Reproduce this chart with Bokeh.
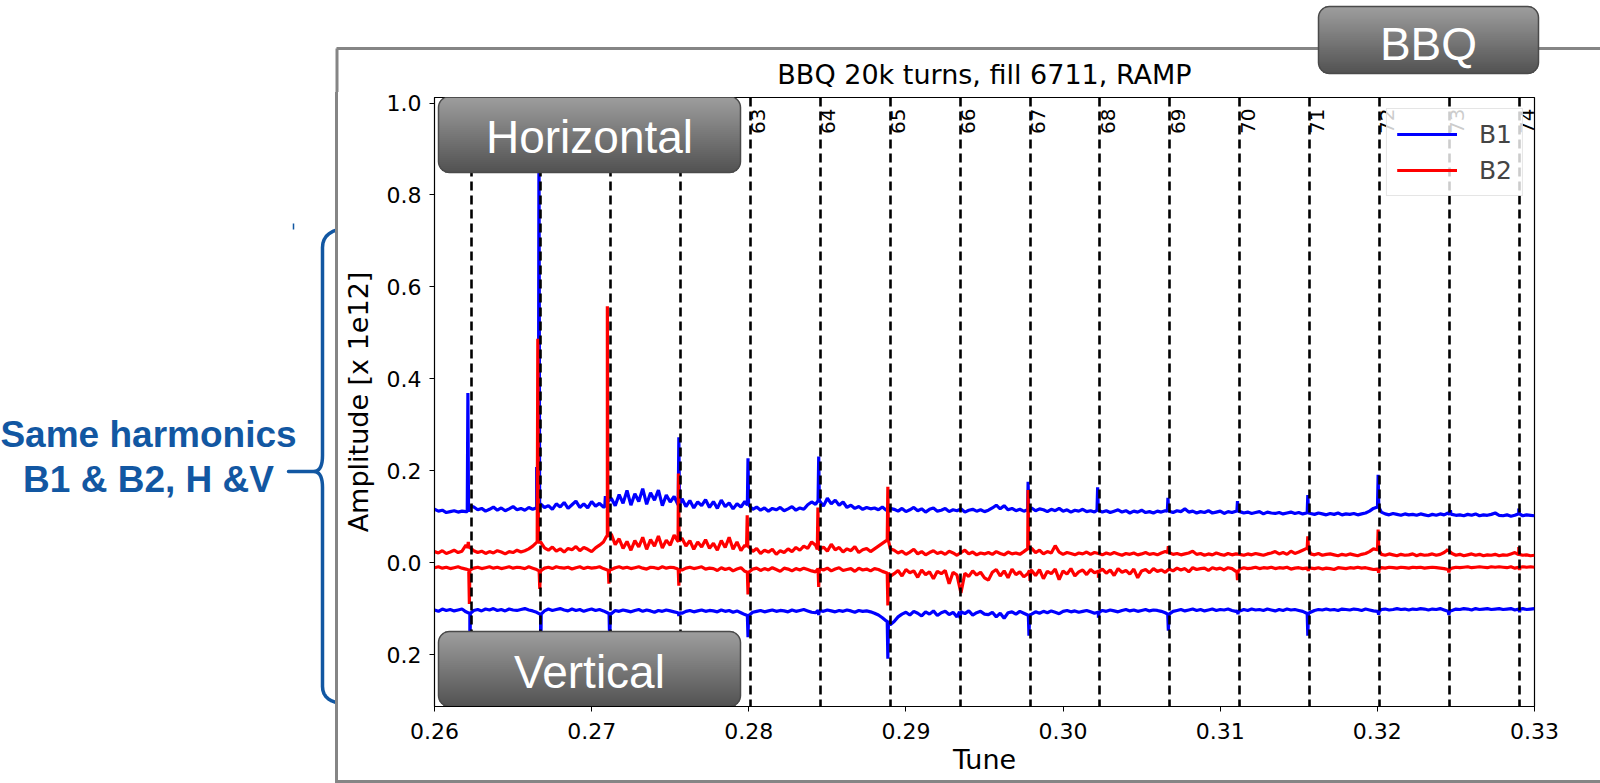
import numpy as np
from bokeh.plotting import figure
from bokeh.layouts import column, row
from bokeh.models import Legend, LegendItem, FixedTicker, Range1d
from bokeh.core.properties import value
from bokeh.embed import file_html
from bokeh.resources import INLINE

# ---------------------------------------------------------------------------
# BBQ spectra, fill 6711 (RAMP), 20k turns.
# Amplitudes are sampled every 0.00025 in tune starting at 0.26 and are given
# in units of 1e9 (i.e. thousandths of the 1e12 axis unit).
# Vertical-plane spectra are plotted mirrored (negative) below zero.
# ---------------------------------------------------------------------------
TUNE_START = 0.26
TUNE_STEP = 0.00025

b1_h = [116, 112, 114, 109, 111, 113, 110, 112, 111,
        124, 121,
        115, 118, 112, 116, 121, 114, 119, 113, 117, 122, 115, 118, 114, 120, 116, 119,
        128, 120, 124, 116, 128, 121, 131, 118, 126, 134, 120, 128, 119, 133, 123, 129, 121, 132,
        140, 124, 148, 129, 157, 125, 150, 133, 161, 127, 152, 136, 158, 124, 147, 132, 144, 126,
        139, 122, 135, 119, 132, 124, 137, 120,
        133, 118, 136, 122, 130, 117, 128, 121, 133,
        125, 116, 121, 114, 119, 112, 118, 115, 120, 113, 117, 122, 114, 119, 116, 126, 132,
        127, 135, 123, 140, 128, 136, 125, 132, 120, 125, 118, 122, 116, 120, 117, 119, 115, 121, 114, 118,
        116, 112, 118, 111, 115, 120, 113, 117, 110, 116, 119, 112, 114, 118, 111, 115, 113, 117, 110, 114, 116, 112, 115, 111,
        114, 119, 125, 117, 124, 115, 118, 113, 116, 112, 115,
        119, 113, 117, 115, 111, 116, 113, 118, 112, 115, 110, 114, 112, 116, 111, 113, 110,
        114, 110, 113, 109, 112, 115, 110, 113, 108, 112, 110, 114, 109, 111, 108, 112, 110, 113,
        112, 109, 113, 111, 117, 110, 112, 108, 111, 109, 113, 108, 110, 112, 107, 111, 109, 112,
        111, 108, 110, 107, 109, 111, 106, 110, 108, 107, 109, 106, 108, 110, 107, 109, 106, 108,
        107, 105, 108, 106, 104, 107, 105, 108, 104, 106, 105, 107, 104, 106, 108, 112, 118,
        121, 110, 106, 104, 107, 105, 103, 106, 104, 105, 103, 106, 104, 102, 105, 103, 106, 104, 108,
        105, 103, 104, 102, 105, 103, 106, 102, 104, 103, 105, 108, 103, 102, 104, 101, 103, 106, 102, 104, 103, 102]

b2_h = [24, 21, 26, 20, 23, 27, 22, 25, 38,
        33, 26, 22, 25, 20, 24, 21, 26, 23, 19, 24, 22, 27, 23, 26, 30, 36, 44,
        45, 32, 27, 34, 25, 30, 23, 31, 28, 35, 26, 33, 29, 24, 32, 38, 45, 58,
        62, 39, 52, 31, 46, 27, 48, 34, 55, 29, 50, 36, 58, 32, 49, 38, 60, 47,
        53, 36, 48, 29, 45, 34, 50, 31,
        42, 27, 48, 33, 55, 29, 45, 26, 38,
        35, 24, 31, 20, 27, 23, 29, 18, 26, 22, 30, 24, 33, 27, 36, 31, 45,
        38, 29, 34, 25, 40, 28, 33, 23, 30, 26, 35, 22, 28, 31, 24, 30, 36, 42, 48, 30,
        27, 21, 25, 18, 23, 29, 19, 24, 17, 22, 26, 20, 23, 18, 25, 21, 16, 22, 27, 19, 23, 17, 21, 19,
        22, 18, 24, 20, 17, 23, 19, 21, 18, 24, 30,
        31, 22, 27, 19, 24, 21, 37, 23, 18, 22, 20, 17, 21, 19, 23, 18, 22,
        20, 17, 21, 18, 22, 19, 16, 20, 18, 21, 17, 19, 22, 18, 20, 17, 21, 24,
        22, 18, 20, 17, 19, 21, 25, 18, 20, 16, 19, 17, 21, 18, 16, 20, 17, 19,
        18, 16, 19, 17, 20, 18, 16, 19, 21, 24, 19, 22, 18, 25, 20, 23, 27, 31,
        19, 17, 20, 16, 18, 19, 17, 15, 18, 16, 19, 17, 15, 18, 20, 24, 30,
        28, 18, 16, 19, 17, 15, 18, 16, 17, 19, 15, 18, 16, 17, 19, 16, 18, 22, 27,
        20, 16, 18, 15, 17, 19, 16, 18, 15, 17, 16, 18, 15, 17, 16, 19, 22, 18, 16, 17, 15, 16]

b2_v = [-11, -9, -12, -10, -13, -11, -9, -12, -14,
        -16, -12, -10, -13, -11, -9, -12, -10, -13, -11, -9, -12, -10, -11, -13, -9, -12, -15,
        -18, -12, -10, -13, -9, -11, -12, -10, -14, -11, -9, -13, -10, -12, -11, -9, -13, -16,
        -15, -11, -9, -12, -10, -13, -11, -9, -12, -14, -10, -11, -13, -9, -12, -10, -11, -14,
        -16, -12, -10, -13, -11, -9, -14, -12,
        -13, -17, -11, -15, -12, -18, -14, -11, -19,
        -21, -14, -12, -17, -13, -16, -11, -15, -19, -12, -14, -18, -13, -16, -12, -15, -18,
        -20, -13, -16, -12, -18, -14, -11, -17, -15, -13, -19, -12, -16, -14, -18, -13, -15, -19, -22, -30,
        -24, -17, -29, -15, -22, -18, -32, -16, -26, -20, -35, -19, -24, -17, -46, -21, -27, -66, -23, -30, -18, -27, -21, -33,
        -38, -21, -15, -29, -18, -33, -14, -26, -20, -31, -24,
        -17, -28, -15, -35, -19, -24, -14, -37, -18, -25, -13, -29, -20, -16, -26, -15, -22,
        -19, -14, -23, -16, -28, -13, -21, -17, -25, -14, -33, -18, -15, -22, -13, -19, -16, -21,
        -14, -18, -12, -16, -13, -20, -11, -15, -13, -12, -17, -11, -14, -12, -16, -11, -13, -19,
        -14, -11, -13, -12, -10, -13, -11, -12, -10, -13, -11, -12, -10, -14, -12, -11, -13, -12,
        -12, -13, -11, -14, -12, -13, -15, -11, -12, -13, -11, -12, -10, -12, -11, -13, -15,
        -14, -11, -12, -10, -11, -12, -10, -11, -12, -10, -11, -10, -12, -11, -10, -11, -12, -13, -15,
        -12, -10, -11, -10, -9, -11, -10, -9, -10, -11, -9, -10, -9, -10, -11, -9, -12, -10, -9, -10, -9, -10]

b1_v = [-103, -106, -101, -104, -102, -105, -103, -101, -107,
        -110, -104, -102, -105, -101, -103, -100, -104, -102, -105, -101, -103, -104, -102, -100, -103, -105, -108,
        -112, -105, -101, -104, -102, -100, -103, -105, -101, -104, -102, -106, -103, -101, -104, -102, -105, -109,
        -111, -104, -106, -103, -105, -107, -104, -102, -106, -103, -105, -108, -104, -106, -103, -105, -107, -109,
        -110, -106, -104, -107, -105, -103, -106, -104,
        -105, -107, -103, -106, -104, -108, -105, -109, -113,
        -115, -108, -106, -104, -107, -105, -103, -106, -104, -105, -107, -103, -106, -104, -102, -105, -108,
        -109, -104, -106, -103, -105, -107, -104, -106, -103, -105, -108, -104, -106, -105, -107, -110, -114, -120, -127, -135,
        -128, -118, -112, -108, -114, -106, -110, -116, -107, -112, -105, -115, -109, -106, -113, -108, -118, -107, -111, -105, -114, -109, -106, -112,
        -113, -108, -118, -110, -121, -109, -107, -112, -106, -110, -114,
        -112, -107, -110, -106, -109, -105, -108, -111, -106, -104, -107, -105, -108, -106, -104, -107, -110,
        -108, -104, -106, -103, -105, -107, -104, -102, -105, -103, -106, -104, -102, -105, -103, -104, -106, -109,
        -112, -106, -104, -102, -105, -103, -101, -104, -102, -105, -103, -101, -104, -102, -103, -101, -104, -106,
        -105, -102, -104, -101, -103, -102, -104, -101, -103, -105, -102, -104, -101, -103, -102, -104, -106, -110,
        -108, -104, -102, -103, -101, -103, -102, -104, -101, -102, -103, -101, -102, -104, -101, -103, -105,
        -106, -102, -101, -103, -102, -100, -102, -101, -103, -101, -102, -100, -101, -103, -101, -102, -100, -103, -106,
        -104, -101, -102, -100, -101, -103, -100, -102, -101, -100, -102, -101, -100, -102, -101, -100, -103, -101, -100, -102, -101, -100]

# Narrow lines (peaks / dips) on top of the noise floor: tune and amplitude [1e9]
b1_h_line_tune = [0.262125, 0.2665, 0.26665, 0.270875, 0.27555, 0.27995, 0.28445, 0.297775,
                  0.3022, 0.306675, 0.3111, 0.315575, 0.32005, 0.32465, 0.329]
b1_h_line_amp = [369, 208, 950, 145, 273, 227, 231, 176, 164, 141, 134, 147, 191, 114, 118]

b2_h_line_tune = [0.26215, 0.266575, 0.271, 0.275525, 0.2799, 0.2844, 0.28885, 0.297775,
                  0.3067, 0.315575, 0.32005, 0.324475, 0.329]
b2_h_line_amp = [45, 487, 558, 194, 103, 120, 165, 158, 36, 57, 72, 29, 34]

b2_v_line_tune = [0.26222, 0.2667, 0.2711, 0.27555, 0.27995, 0.28445, 0.28885, 0.2979,
                  0.30225, 0.3111, 0.3156, 0.32008, 0.32455, 0.32905]
b2_v_line_amp = [-90, -57, -46, -50, -69, -53, -93, -40, -33, -38, -18, -22, -21, -16]

b1_v_line_tune = [0.26225, 0.26675, 0.27115, 0.27555, 0.27995, 0.28445, 0.28885, 0.29345,
                  0.29783, 0.30225, 0.3067, 0.31113, 0.315575, 0.32008, 0.32455, 0.32905]
b1_v_line_amp = [-185, -253, -178, -116, -162, -114, -209, -121, -159, -120, -148, -112, -159,
                 -113, -114, -108]

# 50 Hz mains harmonics expressed in tune units
harmonics = list(range(59, 75))
F_REV = 11245.5   # revolution frequency [Hz]
MAINS = 50.0      # [Hz]
harmonic_tune = [n * MAINS / F_REV for n in harmonics]
harmonic_text = [str(n) for n in harmonics]

x_ticks = [0.26, 0.27, 0.28, 0.29, 0.30, 0.31, 0.32, 0.33]
x_tick_text = ["0.26", "0.27", "0.28", "0.29", "0.30", "0.31", "0.32", "0.33"]
y_ticks = [-0.2, 0.0, 0.2, 0.4, 0.6, 0.8, 1.0]
y_tick_text = ["0.2", "0.0", "0.2", "0.4", "0.6", "0.8", "1.0"]

X_LO, X_HI = 0.26, 0.33
Y_LO, Y_HI = -0.313, 1.012


def spectrum(base, line_tune, line_amp):
    amp = np.asarray(base, dtype=float) / 1000.0
    tune = TUNE_START + TUNE_STEP * np.arange(len(amp))
    xs, ys = list(tune), list(amp)
    for t, a in zip(line_tune, line_amp):
        k = min(int(round((t - TUNE_START) / TUNE_STEP)), len(amp) - 1)
        foot = amp[k]
        xs += [t - 4e-5, t, t + 4e-5]
        ys += [foot, a / 1000.0, foot]
    order = np.argsort(xs, kind="stable")
    return np.asarray(xs)[order], np.asarray(ys)[order]


# ---- page geometry (pixels, y downward) ----------------------------------
W, H = 1600, 783
HEAD_H = 92                 # strip above the chart (slide frame, BBQ tab, title)
EDGE = 3                    # slide frame line thickness (drawn as CSS borders)
SIDE_W = 338                # strip left of the chart, its right border included
ROW_H = H - HEAD_H          # chart row height, bottom border included
FL, FR, FT, FB = 434, 1534, 97, 706   # plot frame edges on the page

FRAME_GREY = "#858585"
BRACE = "#1257a2"
TOP_RGB = np.array([158, 158, 158])
BOT_RGB = np.array([82, 82, 82])


def dx(px):
    return X_LO + (px - FL) / (FR - FL) * (X_HI - X_LO)


def dy(py):
    return Y_HI - (py - FT) / (FB - FT) * (Y_HI - Y_LO)


def ident(v):
    return v


def hexcol(rgb):
    return "#%02x%02x%02x" % tuple(int(round(c)) for c in rgb)


def rounded_rect(left, top, right, bottom, r, n=9):
    xs, ys = [], []
    for cx, cy, a0 in ((right - r, top + r, -90), (right - r, bottom - r, 0),
                       (left + r, bottom - r, 90), (left + r, top + r, 180)):
        for a in np.radians(np.linspace(a0, a0 + 90, n)):
            xs.append(cx + r * np.cos(a))
            ys.append(cy + r * np.sin(a))
    return xs, ys


def gradient_tab(fig, fx, fy, left, top, right, bottom, text, text_mid, radius=11, step=2.0):
    L, R, T, B, C = [], [], [], [], []
    for y0 in np.arange(top, bottom, step):
        y1 = min(y0 + step, bottom)
        yc = 0.5 * (y0 + y1)
        d = 0.0
        if yc < top + radius:
            d = top + radius - yc
        elif yc > bottom - radius:
            d = yc - (bottom - radius)
        inset = radius - np.sqrt(max(radius ** 2 - d ** 2, 0.0))
        f = (yc - top) / (bottom - top)
        L.append(fx(left + inset))
        R.append(fx(right - inset))
        T.append(fy(y0))
        B.append(fy(min(y1 + 0.6, bottom)))
        C.append(hexcol(TOP_RGB + (BOT_RGB - TOP_RGB) * f))
    fig.quad(left=L, right=R, top=T, bottom=B, fill_color=C, line_color=None)
    ox, oy = rounded_rect(left, top, right, bottom, radius)
    fig.patch([fx(v) for v in ox], [fy(v) for v in oy], fill_alpha=0,
              line_color="#4a4a4a", line_width=1.5)
    fig.text(x=[fx((left + right) / 2)], y=[fy(text_mid)], text=[text],
             text_align="center", text_baseline="middle",
             text_font=value("Liberation Sans"), text_font_size="46px", text_color="white")


def blank(width, height, x0, x1, y0, y1, **kw):
    f = figure(width=width, height=height, x_range=Range1d(x0, x1), y_range=Range1d(y1, y0),
               output_backend="svg", toolbar_location=None,
               x_axis_type=None, y_axis_type=None, **kw)
    f.outline_line_color = None
    f.background_fill_color = "white"
    f.border_fill_color = "white"
    return f


# ---- main chart -------------------------------------------------------------
p = figure(width=W - SIDE_W, height=ROW_H, x_range=Range1d(X_LO, X_HI),
           y_range=Range1d(Y_LO, Y_HI), output_backend="svg", toolbar_location=None,
           min_border_left=FL - SIDE_W, min_border_right=W - FR,
           min_border_top=FT - HEAD_H, min_border_bottom=H - FB,
           styles={"border-bottom": "%dpx solid %s" % (EDGE, FRAME_GREY)})
p.background_fill_color = "white"
p.border_fill_color = "white"
p.outline_line_color = "black"
p.outline_line_width = 1.2
p.grid.visible = False

for ax in (p.xaxis[0], p.yaxis[0]):
    ax.axis_line_color = "black"
    ax.major_tick_line_color = "black"
    ax.major_tick_out = 5
    ax.major_tick_in = 0
    ax.minor_tick_line_color = None
    ax.major_label_text_font = "DejaVu Sans"
    ax.major_label_text_font_size = "22px"
    ax.major_label_text_color = "black"
    ax.axis_label_text_font = "DejaVu Sans"
    ax.axis_label_text_font_style = "normal"
    ax.axis_label_text_font_size = "27px"
    ax.axis_label_text_color = "black"

p.xaxis.ticker = FixedTicker(ticks=x_ticks)
p.xaxis.major_label_overrides = dict(zip(x_ticks, x_tick_text))
p.xaxis.major_label_standoff = 11
p.xaxis.axis_label = "Tune"
p.xaxis.axis_label_standoff = 2

p.yaxis.ticker = FixedTicker(ticks=y_ticks)
p.yaxis.major_label_overrides = dict(zip(y_ticks, y_tick_text))
p.yaxis.major_label_standoff = 8
p.yaxis.axis_label = "Amplitude [x 1e12]"
p.yaxis.axis_label_standoff = 10

LW = 3.2
x, y = spectrum(b1_h, b1_h_line_tune, b1_h_line_amp)
r_b1h = p.line(x, y, line_color="#0000ff", line_width=LW)
x, y = spectrum(b2_h, b2_h_line_tune, b2_h_line_amp)
r_b2h = p.line(x, y, line_color="#ff0000", line_width=LW)
x, y = spectrum(b1_v, b1_v_line_tune, b1_v_line_amp)
r_b1v = p.line(x, y, line_color="#0000ff", line_width=LW)
x, y = spectrum(b2_v, b2_v_line_tune, b2_v_line_amp)
r_b2v = p.line(x, y, line_color="#ff0000", line_width=LW)

p.vspan(x=harmonic_tune, line_color="black", line_width=2.6, line_dash="9 5")
p.text(x=[t + 0.00006 for t in harmonic_tune], y=[0.988] * len(harmonic_tune),
       text=harmonic_text, angle=np.pi / 2, text_align="right", text_baseline="top",
       text_font=value("DejaVu Sans"), text_font_size="20px", text_color="black")

gradient_tab(p, dx, dy, 438, 96, 740, 172, "Horizontal", 136)
gradient_tab(p, dx, dy, 438, 631, 740, 706, "Vertical", 671)

legend = Legend(items=[LegendItem(label="B1", renderers=[r_b1h, r_b1v]),
                       LegendItem(label="B2", renderers=[r_b2h, r_b2v])],
                location="top_right", margin=11, padding=10, spacing=6,
                glyph_width=60, glyph_height=30, label_height=30, label_standoff=22,
                label_text_font="DejaVu Sans", label_text_font_size="25px",
                background_fill_color="white", background_fill_alpha=0.8,
                border_line_color="#cccccc", border_line_width=1.2)
p.add_layout(legend)

# ---- strip above: slide frame top edge, BBQ tab, chart title --------------
head = blank(W, HEAD_H, 0, W, 0, HEAD_H, min_border=0)
head.segment(x0=[336, SIDE_W - EDGE / 2], y0=[48, 48], x1=[W + 5, SIDE_W - EDGE / 2],
             y1=[48, HEAD_H + 2], line_color=FRAME_GREY, line_width=3)
gradient_tab(head, ident, ident, 1318, 6, 1538, 73, "BBQ", 43)
head.text(x=[(FL + FR) / 2], y=[74], text=["BBQ 20k turns, fill 6711, RAMP"],
          text_align="center", text_baseline="middle", text_font=value("DejaVu Sans"),
          text_font_size="27px", text_color="black")

# ---- strip left: brace and comment (its plot area spans the chart's height) --
side = blank(SIDE_W, ROW_H, 0, SIDE_W, FT, FB,
             min_border_left=0, min_border_right=0,
             min_border_top=FT - HEAD_H, min_border_bottom=H - FB,
             styles={"border-right": "%dpx solid %s" % (EDGE, FRAME_GREY)})


def qbez(a, b, c, n=10):
    s = np.linspace(0, 1, n)
    return [((1 - t) ** 2 * a[0] + 2 * (1 - t) * t * b[0] + t ** 2 * c[0],
             (1 - t) ** 2 * a[1] + 2 * (1 - t) * t * b[1] + t ** 2 * c[1]) for t in s]


brace = (qbez((355, 227), (322, 227), (322, 247))
         + qbez((322, 455), (322, 471), (313, 471))
         + [(288, 471), (313, 471)]
         + qbez((313, 471), (322, 471), (322, 487))
         + qbez((322, 686), (322, 704), (352, 704)))
side.line([a for a, _ in brace], [b for _, b in brace], line_color=BRACE, line_width=3.5,
          line_join="round", line_cap="round")
side.segment(x0=[293], y0=[223], x1=[293], y1=[229], line_color=BRACE, line_width=1.5)
side.text(x=[148, 148], y=[434, 479], text=["Same harmonics", "B1 & B2, H &V"],
          text_align="center", text_baseline="middle", text_font=value("Liberation Sans"),
          text_font_style="bold", text_font_size="37px", text_color=BRACE)

page = column(head, row(side, p))
open("out.html", "w").write(file_html(page, INLINE))
